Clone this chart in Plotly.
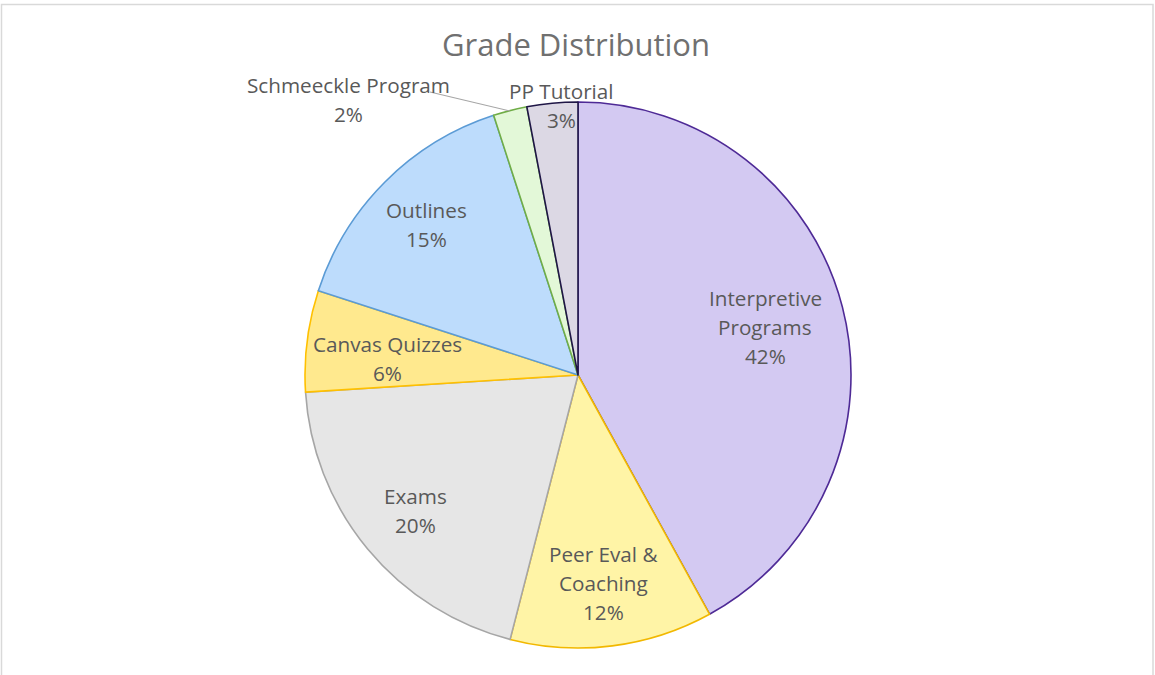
import plotly.graph_objects as go

# Data
categories = ["Interpretive Programs", "Peer Eval & Coaching", "Exams", "Canvas Quizzes",
              "Outlines", "Schmeeckle Program", "PP Tutorial"]
values = [42, 12, 20, 6, 15, 2, 3]
label_lines = [["Interpretive", "Programs"], ["Peer Eval &", "Coaching"], ["Exams"],
               ["Canvas Quizzes"], ["Outlines"], ["Schmeeckle Program"], ["PP Tutorial"]]

fill_colors = ["#d3c9f2", "#fff4a6", "#e6e6e6", "#ffe98e", "#bddcfc", "#e3f8d8", "#dcd8e4"]
edge_colors = ["#4e2a96", "#f2b800", "#a6a6a6", "#ffc000", "#5b9bd5", "#70ad47", "#1f1646"]

W, H = 1155, 675
CX, CY, R = 578, 375, 273

fig = go.Figure()
fig.add_trace(go.Pie(
    labels=categories, values=values, sort=False, direction="clockwise", rotation=0,
    marker=dict(colors=fill_colors, line=dict(color=edge_colors, width=1.6)),
    textinfo="none", hoverinfo="label+percent", showlegend=False,
    domain=dict(x=[(CX - R) / W, (CX + R) / W], y=[(H - CY - R) / H, (H - CY + R) / H]),
))

# label anchor positions (pixel centers of first line) and line spacing
label_pos = [(765, 298), (603, 554), (415, 496), (387, 344), (426, 210), (348, 85), (561, 91)]
LS = 29
total = sum(values)
font = dict(family="Open Sans, Calibri, sans-serif", size=20.7, color="#595959")
annotations = []
for lines, v, (px, py) in zip(label_lines, values, label_pos):
    all_lines = lines + [f"{round(100 * v / total)}%"]
    for i, t in enumerate(all_lines):
        annotations.append(dict(x=px / W, y=1 - (py + i * LS) / H, xref="paper", yref="paper",
                                text=t, showarrow=False, font=font, xanchor="center", yanchor="middle"))

annotations.append(dict(x=576 / W, y=1 - 44 / H, xref="paper", yref="paper", text="Grade Distribution",
                        showarrow=False, font=dict(family="Open Sans, Calibri, sans-serif", size=31, color="#707070"),
                        xanchor="center", yanchor="middle"))

shapes = [
    dict(type="rect", xref="paper", yref="paper", x0=1.5 / W, x1=1153 / W, y0=-0.05, y1=1 - 4.5 / H,
         line=dict(color="#d9d9d9", width=1.5), fillcolor="rgba(0,0,0,0)"),
    dict(type="line", xref="paper", yref="paper", x0=430 / W, y0=1 - 92 / H, x1=510 / W, y1=1 - 111 / H,
         line=dict(color="#a6a6a6", width=1.2)),
]

fig.update_layout(width=W, height=H, margin=dict(l=0, r=0, t=0, b=0),
                  paper_bgcolor="white", plot_bgcolor="white",
                  annotations=annotations, shapes=shapes)
fig.write_html("out.html", config={"displayModeBar": False},
               post_script="document.body.style.margin='0px';")
